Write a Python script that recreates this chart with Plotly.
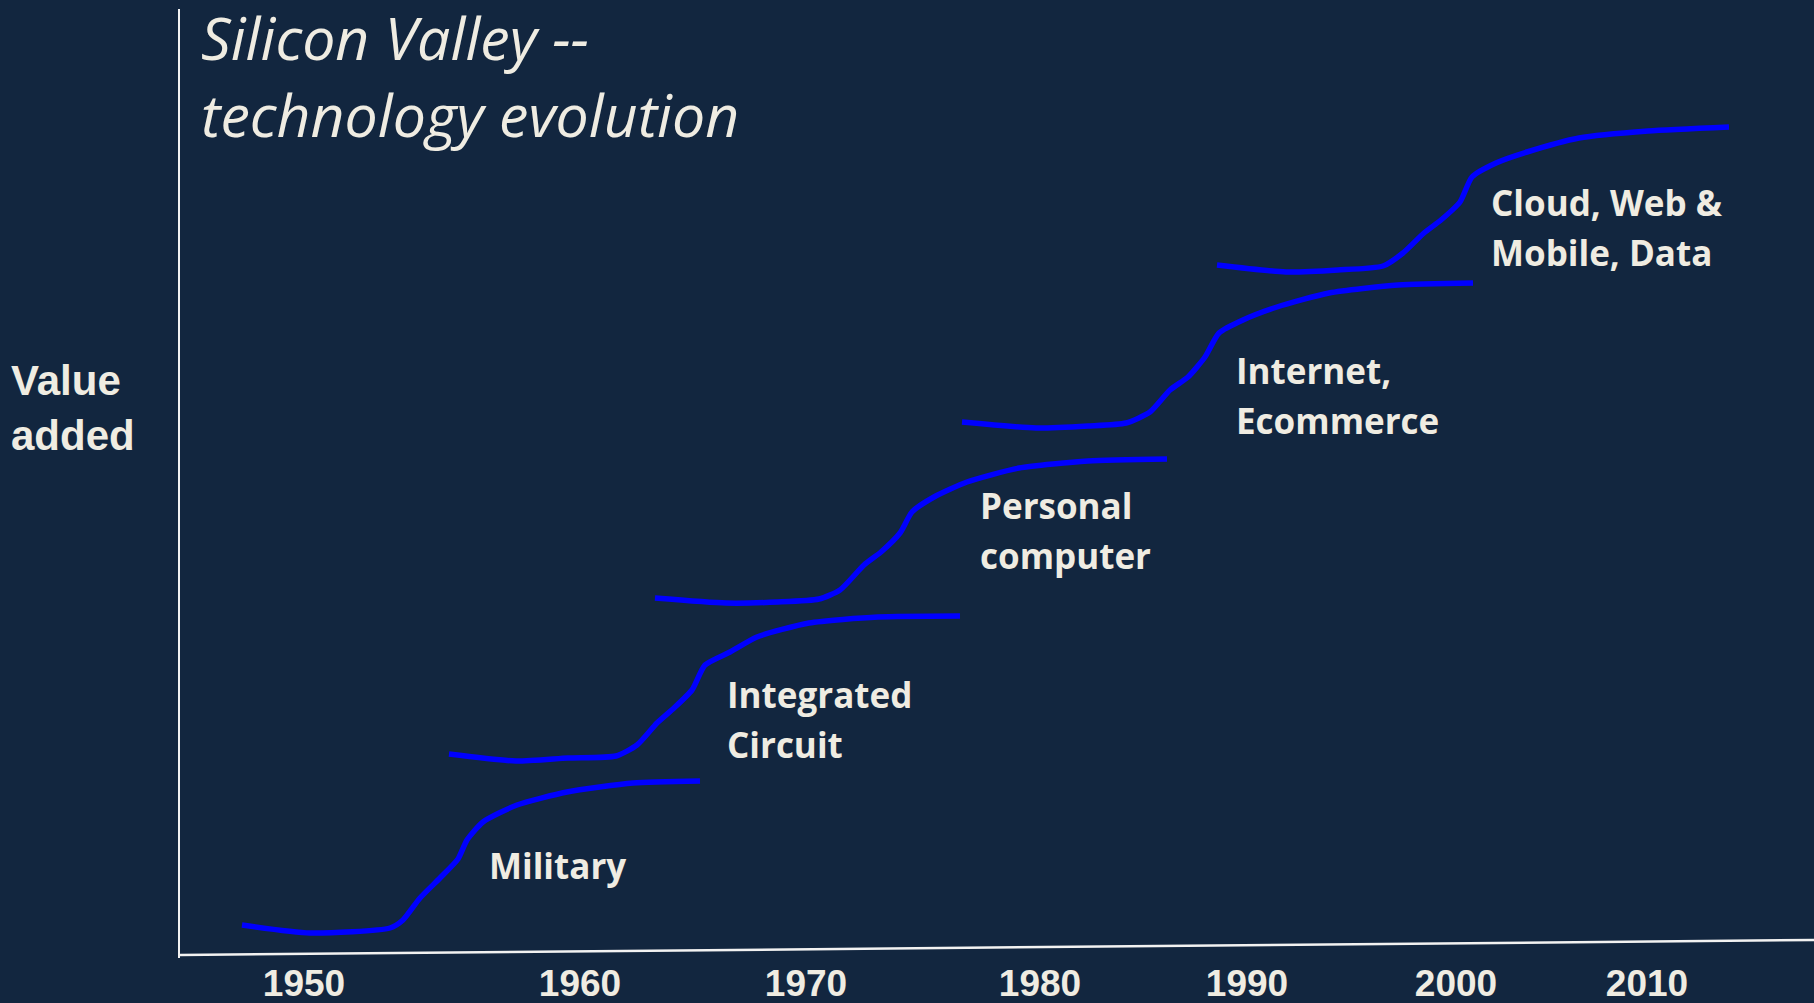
import plotly.graph_objects as go

# ---- data (chart units: x = timeline position, y = value added) ----
MILITARY_X = [62, 130, 210, 223, 240, 260, 278, 287, 303, 337, 387, 453, 520]
MILITARY_Y = [33, 25, 30, 38, 60, 80, 99, 118, 136, 153, 166, 175, 177]

IC_X = [269, 336, 388, 436, 457, 477, 494, 512, 525, 550, 577, 629, 698, 780]
IC_Y = [204, 197, 200, 202, 213, 235, 250, 268, 293, 306, 321, 335, 341, 342]

PC_X = [475, 546, 598, 639, 660, 684, 701, 720, 732, 754, 787, 839, 908, 987]
PC_Y = [360, 355, 356, 359, 368, 393, 406, 425, 446, 461, 476, 490, 497, 499]

NET_X = [782, 856, 908, 946, 970, 990, 1008, 1025, 1039, 1063, 1097, 1149, 1218, 1293]
NET_Y = [536, 530, 532, 535, 546, 568, 581, 601, 625, 638, 651, 665, 673, 675]

CLOUD_X = [1037, 1106, 1158, 1203, 1223, 1244, 1261, 1280, 1292, 1316, 1347, 1399, 1468, 1549]
CLOUD_Y = [693, 686, 688, 692, 705, 725, 738, 756, 781, 795, 806, 820, 827, 831]

LABELS = ["Military", "Integrated<br>Circuit", "Personal<br>computer",
          "Internet,<br>Ecommerce", "Cloud, Web &<br>Mobile, Data"]

TICK_POS = [124, 400, 626, 860, 1067, 1276, 1467]
TICK_LABELS = ["1950", "1960", "1970", "1980", "1990", "2000", "2010"]

TITLE = "Silicon Valley --<br>technology evolution"
Y_TITLE = "Value<br>added"

# ---- layout / style ----
BG = "#12263f"
TXT = "#efece2"
LINE = "#0000ff"
LABEL_POS = [(307, 93), (545, 238.5), (798, 428), (1054, 562.5), (1309, 730.5)]
LABEL_LINE_GAP = 50

fig = go.Figure()
for xs, ys in [(MILITARY_X, MILITARY_Y), (IC_X, IC_Y), (PC_X, PC_Y),
               (NET_X, NET_Y), (CLOUD_X, CLOUD_Y)]:
    fig.add_trace(go.Scatter(x=xs, y=ys, mode="lines",
                             line=dict(color=LINE, width=5.5, shape="spline", smoothing=0.6),
                             hoverinfo="skip", showlegend=False))

# tilted baseline (x axis)
fig.add_shape(type="line", xref="x", yref="y", x0=0, y0=3, x1=1634, y1=18,
              line=dict(color="#f2f2f2", width=2.5))

for text, (lx, ly) in zip(LABELS, LABEL_POS):
    lines = text.split("<br>")
    n = len(lines)
    for i, ln in enumerate(lines):
        yy = ly + ((n - 1) / 2 - i) * LABEL_LINE_GAP
        fig.add_annotation(x=lx, y=yy, xref="x", yref="y", text=ln, showarrow=False,
                           xanchor="left", yanchor="middle", align="left",
                           font=dict(family="Open Sans", size=35, color=TXT, weight=700))

fig.add_annotation(x=19, y=882.5, xref="x", yref="y", text=TITLE, showarrow=False,
                   xanchor="left", yanchor="middle", align="left",
                   font=dict(family="Open Sans", size=59, color=TXT, style="italic"))

fig.add_annotation(x=-171 / 1634, y=550.5 / 949, xref="paper", yref="paper", text=Y_TITLE,
                   showarrow=False, xanchor="left", yanchor="middle", align="left",
                   font=dict(family="Liberation Sans, Arial", size=42, color=TXT, weight=700))

fig.update_layout(
    width=1814, height=1003,
    paper_bgcolor=BG, plot_bgcolor=BG,
    margin=dict(l=180, r=0, t=9, b=45),
    xaxis=dict(range=[0, 1634], showgrid=False, zeroline=False, showline=False,
               tickmode="array", tickvals=TICK_POS, ticktext=TICK_LABELS, ticks="",
               tickfont=dict(family="Liberation Sans, Arial", size=37, color=TXT, weight=700),
               fixedrange=True),
    yaxis=dict(range=[0, 949], showgrid=False, zeroline=False, showticklabels=False,
               showline=True, linecolor="#f2f2f2", linewidth=2, ticks="", fixedrange=True),
)

fig.write_html(
    "out.html",
    config={"displayModeBar": False},
    post_script="document.body.style.margin='0';document.body.style.overflow='hidden';"
                "document.body.style.background='" + BG + "';",
)
